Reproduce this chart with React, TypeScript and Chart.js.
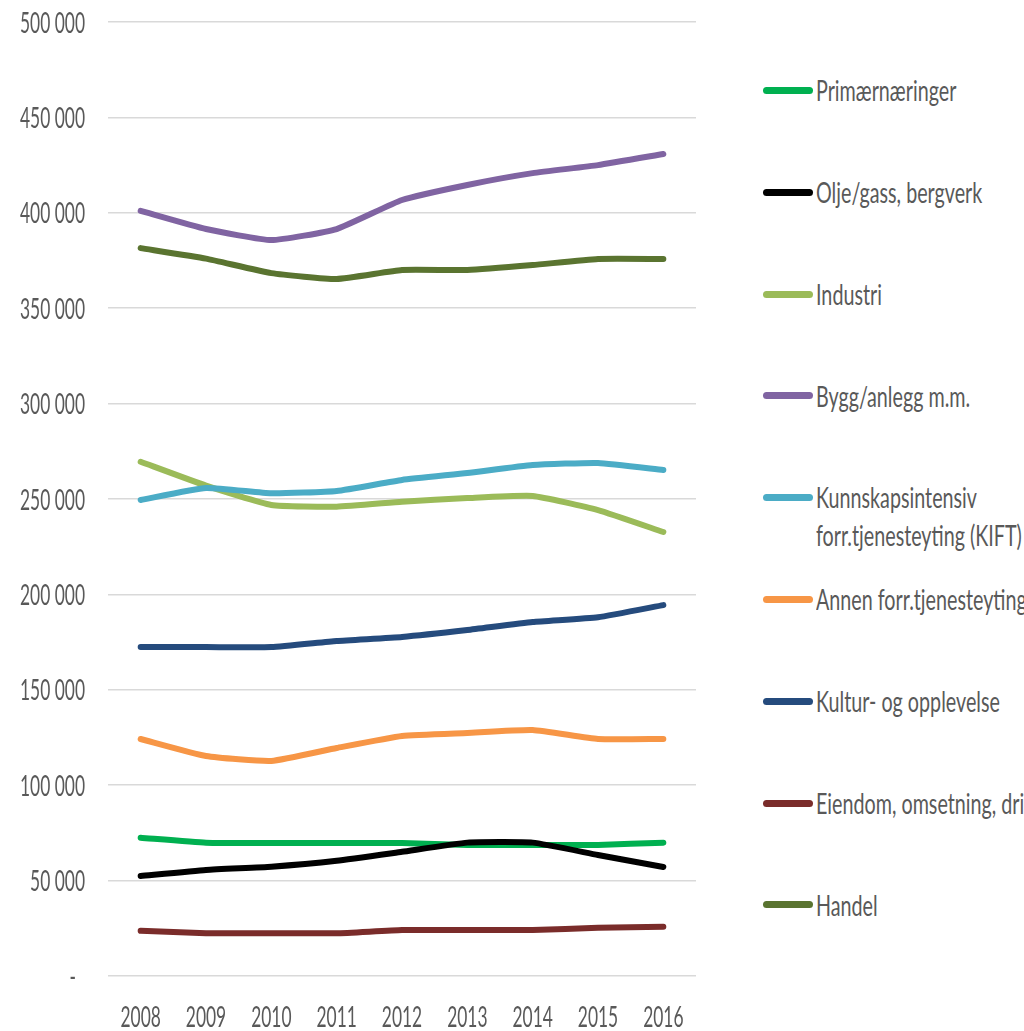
import React, { useEffect, useRef } from 'react';
import { Chart, registerables } from 'chart.js';

Chart.register(...registerables);

const YEARS = ['2008', '2009', '2010', '2011', '2012', '2013', '2014', '2015', '2016'];

const PRIMAERNAERINGER = [72500, 69900, 69700, 69700, 69700, 68700, 68700, 68700, 69900];
const OLJE_GASS = [52400, 55600, 57300, 60400, 65100, 69900, 69900, 63400, 57100];
const INDUSTRI = [269500, 257000, 246900, 246000, 248600, 250500, 251600, 244200, 232700];
const BYGG_ANLEGG = [401000, 391500, 385700, 391500, 406700, 414600, 420800, 425000, 430800];
const KIFT = [249500, 255800, 253000, 254200, 260000, 263600, 267800, 268900, 265200];
const ANNEN_FORR = [124200, 115300, 112700, 119500, 125800, 127400, 128900, 124200, 124200];
const KULTUR = [172400, 172400, 172400, 175600, 177700, 181300, 185500, 188000, 194400];
const EIENDOM = [23700, 22400, 22400, 22400, 24100, 24100, 24100, 25300, 25800];
const HANDEL = [381500, 376000, 368400, 365300, 370000, 370000, 372600, 375800, 375800];

const SERIES_LABELS = [
  'Primærnæringer',
  'Olje/gass, bergverk',
  'Industri',
  'Bygg/anlegg m.m.',
  'Kunnskapsintensiv\nforr.tjenesteyting (KIFT)',
  'Annen forr.tjenesteyting',
  'Kultur- og opplevelse',
  'Eiendom, omsetning, drift',
  'Handel',
];
const SERIES_VALUES = [
  PRIMAERNAERINGER, OLJE_GASS, INDUSTRI, BYGG_ANLEGG, KIFT, ANNEN_FORR, KULTUR, EIENDOM, HANDEL,
];
const SERIES_COLORS = [
  '#00B050', '#000000', '#9BBB59', '#8064A2', '#4BACC6', '#F79646', '#254B7D', '#7A2C2A', '#5A7430',
];

const Y_MIN = 0;
const Y_MAX = 500000;
const Y_STEP = 50000;

const FONT = "Lato, 'Open Sans', sans-serif";
const TEXT_COLOR = '#595959';
const SX = 0.6;
const LEGEND_SX = 0.68;

function formatTick(v: number): string {
  if (v === 0) return '-';
  return String(v).replace(/\B(?=(\d{3})+(?!\d))/g, ' ');
}

const condensedTicks = {
  id: 'condensedTicks',
  afterDraw(chart: any) {
    const ctx = chart.ctx;
    const ys = chart.scales.y;
    const xs = chart.scales.x;
    ctx.save();
    ctx.fillStyle = TEXT_COLOR;
    ctx.font = `29px ${FONT}`;
    ctx.textBaseline = 'alphabetic';
    ys.ticks.forEach((t: any, i: number) => {
      const y = ys.getPixelForTick(i);
      const label = formatTick(t.value);
      ctx.save();
      ctx.translate(label === '-' ? 76 : 85, y + 10.5);
      ctx.scale(SX, 1);
      ctx.textAlign = 'right';
      ctx.fillText(label, 0, 0);
      ctx.restore();
    });
    xs.ticks.forEach((t: any, i: number) => {
      const x = xs.getPixelForTick(i);
      const label = String(xs.getLabelForValue(t.value));
      ctx.save();
      ctx.translate(x, xs.top + 51);
      ctx.scale(SX, 1);
      ctx.textAlign = 'center';
      ctx.fillText(label, 0, 0);
      ctx.restore();
    });
    ctx.restore();
  },
};

export default function App() {
  const canvasRef = useRef<HTMLCanvasElement | null>(null);

  useEffect(() => {
    const canvas = canvasRef.current;
    if (!canvas) return;
    const n = SERIES_VALUES.length;
    const chart = new Chart(canvas, {
      type: 'line',
      data: {
        labels: YEARS,
        datasets: SERIES_VALUES.map((vals, i) => ({
          label: SERIES_LABELS[i].replace('\n', ' '),
          data: vals,
          borderColor: SERIES_COLORS[i],
          backgroundColor: SERIES_COLORS[i],
          borderWidth: 6,
          pointRadius: 0,
          pointHoverRadius: 0,
          tension: 0.15,
          fill: false,
          borderCapStyle: 'round' as const,
          borderJoinStyle: 'round' as const,
          order: n - i,
        })),
      },
      options: {
        animation: false,
        responsive: false,
        devicePixelRatio: 1,
        layout: { padding: { top: 22, right: 24, left: 0, bottom: 0 } },
        plugins: {
          legend: { display: false },
          tooltip: { enabled: false },
        },
        scales: {
          x: {
            offset: true,
            grid: { display: false, drawTicks: false },
            border: { display: false },
            ticks: { display: false },
            afterFit: (scale: any) => {
              scale.height = 55;
            },
          },
          y: {
            min: Y_MIN,
            max: Y_MAX,
            ticks: { display: false, stepSize: Y_STEP, callback: (v: any) => formatTick(Number(v)) },
            grid: { color: '#d9d9d9', lineWidth: 1.5, drawTicks: false },
            border: { display: false },
            afterFit: (scale: any) => {
              scale.width = 108;
            },
          },
        },
      },
      plugins: [condensedTicks],
    });
    return () => chart.destroy();
  }, []);

  const LEGEND_TOP = 90.5;
  const LEGEND_STEP = 101.8;

  return (
    <div
      style={{
        position: 'absolute',
        left: 0,
        top: 0,
        width: 1024,
        height: 1031,
        overflow: 'hidden',
        background: '#ffffff',
      }}
    >
      <canvas
        ref={canvasRef}
        width={720}
        height={1031}
        style={{ position: 'absolute', left: 0, top: 0, width: 720, height: 1031, display: 'block' }}
      />
      {SERIES_LABELS.map((lab, i) => {
        const cy = LEGEND_TOP + i * LEGEND_STEP;
        return (
          <React.Fragment key={lab}>
            <div
              style={{
                position: 'absolute',
                left: 763,
                top: cy - 3.5,
                width: 50,
                height: 7,
                borderRadius: 3.5,
                background: SERIES_COLORS[i],
              }}
            />
            <div
              style={{
                position: 'absolute',
                left: 816,
                top: cy - 19.3,
                fontFamily: FONT,
                fontSize: 29,
                lineHeight: '37.4px',
                color: TEXT_COLOR,
                whiteSpace: 'pre',
                transform: `scaleX(${LEGEND_SX})`,
                transformOrigin: 'left top',
              }}
            >
              {lab}
            </div>
          </React.Fragment>
        );
      })}
    </div>
  );
}
